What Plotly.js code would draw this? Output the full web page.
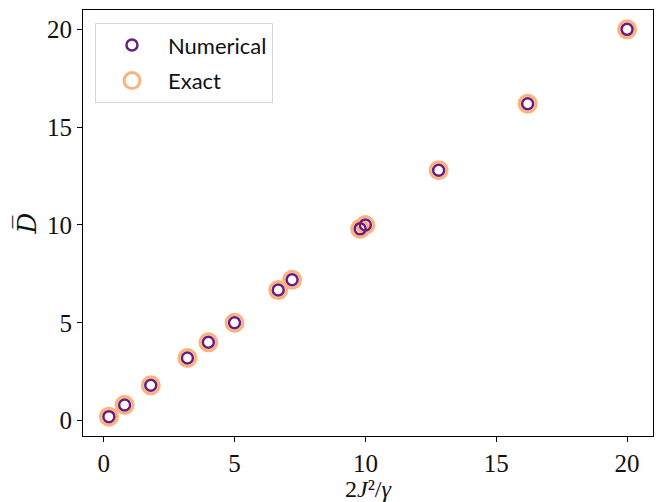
<!DOCTYPE html>
<html>
<head>
<meta charset="utf-8">
<script src="https://cdn.plot.ly/plotly-3.0.1.min.js"></script>
<style>html,body{margin:0;padding:0;background:#fff;}</style>
</head>
<body>
<div id="chart" style="width:660px;height:502px;"></div>
<script>
// Data
const xNumerical = [0.2, 0.8, 1.8, 3.2, 4.0, 5.0, 6.67, 7.2, 9.8, 10.0, 12.8, 16.2, 20.0];
const yNumerical = [0.2, 0.8, 1.8, 3.2, 4.0, 5.0, 6.67, 7.2, 9.8, 10.0, 12.8, 16.2, 20.0];
const xExact = [0.2, 0.8, 1.8, 3.2, 4.0, 5.0, 6.67, 7.2, 9.8, 10.0, 12.8, 16.2, 20.0];
const yExact = [0.2, 0.8, 1.8, 3.2, 4.0, 5.0, 6.67, 7.2, 9.8, 10.0, 12.8, 16.2, 20.0];
const tickVals = [0, 5, 10, 15, 20];
const tickText = ["0", "5", "10", "15", "20"];

const exact = {
  x: xExact, y: yExact, type: 'scatter', mode: 'markers', name: 'Exact',
  legendrank: 2, legendgroup: 'b',
  marker: {symbol: 'circle-open', size: 17, color: '#fdb27b', line: {width: 3, color: '#fdb27b'}}
};
const numerical = {
  x: xNumerical, y: yNumerical, type: 'scatter', mode: 'markers', name: 'Numerical',
  legendrank: 1, legendgroup: 'a',
  marker: {symbol: 'circle-open', size: 11, color: '#6a1c81', line: {width: 2.5, color: '#6a1c81'}}
};

const axisCommon = {
  showgrid: false, zeroline: false, showline: true, mirror: true,
  linecolor: '#000', linewidth: 1,
  ticks: 'outside', ticklen: 5, tickwidth: 1, tickcolor: '#000',
  tickvals: tickVals, ticktext: tickText,
  tickfont: {family: 'Liberation Serif, DejaVu Serif, serif', size: 25, color: '#111'}
};

const layout = {
  width: 660, height: 502,
  margin: {l: 83, r: 7, t: 10, b: 66},
  paper_bgcolor: '#fff', plot_bgcolor: '#fff',
  showlegend: true,
  xaxis: Object.assign({}, axisCommon, {
    range: [-0.79, 20.99],
    title: {text: '2<i>J</i>²/<i>γ</i>', font: {family: 'Liberation Serif, DejaVu Serif, serif', size: 24, color: '#111'}}
  }),
  yaxis: Object.assign({}, axisCommon, {
    range: [-0.79, 20.99],
    title: {text: '<i>D\u0305</i>', font: {family: 'DejaVu Serif, serif', size: 26, color: '#111'}, standoff: 2}
  }),
  legend: {
    x: 0.021, y: 0.969, xanchor: 'left', yanchor: 'top',
    itemwidth: 62, tracegroupgap: 4,
    bgcolor: 'rgba(255,255,255,0.8)', bordercolor: '#d6d6d6', borderwidth: 1,
    font: {family: 'Lato, Liberation Sans, sans-serif', size: 22, color: '#111'}
  }
};

Plotly.newPlot('chart', [exact, numerical], layout, {displayModeBar: false, staticPlot: true});
</script>
</body>
</html>
